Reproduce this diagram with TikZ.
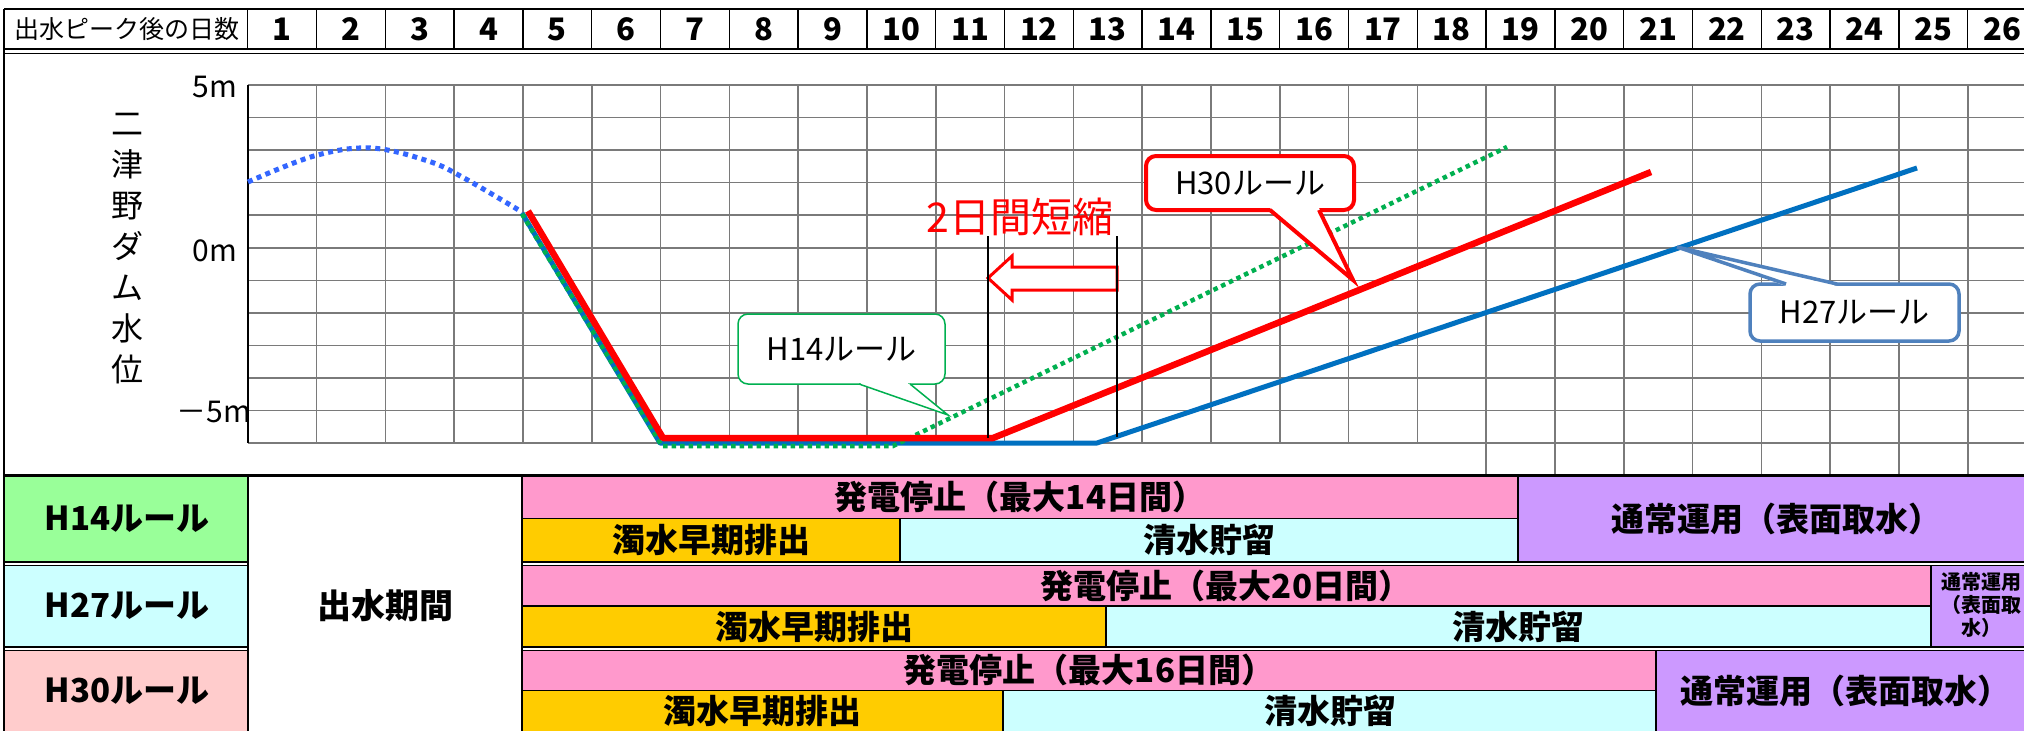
\documentclass[tikz,border=0pt]{standalone}
\usepackage{fontspec}
\setmainfont{Noto Sans CJK JP}
\newcommand{\fsz}[1]{\fontsize{#1}{#1}\selectfont}
\definecolor{lgreen}{HTML}{99FF99}
\definecolor{lcyan}{HTML}{CCFFFF}
\definecolor{lpink}{HTML}{FFCCCC}
\definecolor{barpink}{HTML}{FF99CC}
\definecolor{barorange}{HTML}{FFCC00}
\definecolor{barcyan}{HTML}{CCFFFF}
\definecolor{barpurple}{HTML}{CC99FF}
\definecolor{rred}{HTML}{FF0000}
\definecolor{rblue}{HTML}{0070C0}
\definecolor{rgreen}{HTML}{00B050}
\definecolor{dblue}{HTML}{3366FF}
\definecolor{cblue}{HTML}{4F81BD}
\begin{document}
\begin{tikzpicture}[x=1pt,y=-1pt,
  gridln/.style={draw=black!52, line width=1.6pt},
  hdrnum/.style={font=\fsz{31}\bfseries, inner sep=0pt},
  callout/.style={draw, fill=white, rounded corners=10pt, inner sep=0pt, font=\fsz{31}},
  celltxt/.style={font=\fsz{33}\bfseries, inner sep=0pt},
  axlab/.style={font=\fsz{30}, inner sep=0pt},
  border/.style={line width=1.5pt, draw=black}]
\useasboundingbox (0,0) rectangle (2024,731);
\fill[white] (0,0) rectangle (2024,731);

% ---------- header ----------
\node[font=\fsz{25}, inner sep=0pt] (hlabel) at (127,29) {出水ピーク後の日数};
\foreach \k in {1,...,26} {
  \node[hdrnum] (h\k) at ({247.7+68.8*(\k-0.5)},29) {\k};
}
\foreach \k in {0,...,25} {
  \draw[line width=1.3pt] ({247.7+68.8*\k},9) -- ({247.7+68.8*\k},49);
}
\draw[line width=2pt] (4,9) -- (2024,9);
\draw[line width=2pt] (4,49) -- (2024,49);
\draw[line width=1.3pt] (4,53.5) -- (2024,53.5);

% ---------- chart grid ----------
\foreach \j in {0,...,11} {
  \draw[gridln] (247.7,{85+32.55*\j}) -- (2024,{85+32.55*\j});
}
\foreach \k in {1,...,17} {
  \draw[gridln] ({247.7+68.8*\k},85) -- ({247.7+68.8*\k},443);
}
\foreach \k in {18,...,25} {
  \draw[gridln] ({247.7+68.8*\k},85) -- ({247.7+68.8*\k},474);
}
\draw[line width=1.8pt] (247.7,85) -- (247.7,443);

\node[axlab, anchor=east] (y5) at (237,87) {5m};
\node[axlab, anchor=east] (y0) at (237,251) {0m};
\node[axlab, anchor=east] (ym5) at (251,412) {－5m};
\node[font=\fontsize{32}{41}\selectfont, align=center, inner sep=0pt] (ylab) at (127,249)
  {二\\津\\野\\ダ\\ム\\水\\位};

% ---------- curves ----------
\draw[dblue, line width=5pt, dash pattern=on 5pt off 4.5pt]
  plot[smooth, tension=0.6] coordinates {(248,182) (314,156) (371,148) (428,161) (464,178) (522,212)};
\draw[rblue, line width=5pt, line join=round] (522,213) -- (660,443) -- (1097,443) -- (1917,168);
\draw[rgreen, line width=4.5pt, dash pattern=on 4.5pt off 4pt] (522,214) -- (662,446) -- (893,446) -- (1507,147);
\draw[rred, line width=6.5pt, line join=round] (528,211) -- (663,438) -- (993,438) -- (1651,172);

% ---------- 2日間短縮 ----------
\draw[rred, line width=3pt, fill=white, line join=miter]
  (988,278) -- (1012,256) -- (1012,267) -- (1117,267) -- (1117,290) -- (1012,290) -- (1012,300) -- cycle;
\coordinate (m1top) at (988,236);
\coordinate (m1bot) at (988,438);
\coordinate (m2top) at (1117,236);
\coordinate (m2bot) at (1117,437);
\draw[line width=1.3pt] (m1top) -- (m1bot);
\draw[line width=1.3pt] (m2top) -- (m2bot);
\node[rred, font=\fsz{41}, inner sep=0pt] (short) at (1020,217) {2日間短縮};

% ---------- callouts ----------
\node[callout, draw=rgreen, line width=1.5pt, minimum width=207pt, minimum height=70pt] (c14) at (841.5,349) {H14ルール};
\coordinate (t14) at (948,415);
\draw[white, line width=3pt] (861,384) -- (908,384);
\fill[white] (859,384) -- (t14) -- (910,384) -- cycle;
\draw[rgreen, line width=1.5pt] (859,384) -- (t14) -- (910,384);

\node[callout, draw=rred, line width=4pt, minimum width=208pt, minimum height=54pt] (c30) at (1250,183) {H30ルール};
\coordinate (t30) at (1353,280);
\draw[white, line width=5pt] (1273,210) -- (1316,210);
\fill[white] (1270,208) -- (t30) -- (1319,208) -- cycle;
\draw[rred, line width=4pt, line join=miter] (1270,210) -- (t30) -- (1319,210);

\node[callout, draw=cblue, line width=3.5pt, minimum width=209pt, minimum height=57pt] (c27) at (1854.5,312.5) {H27ルール};
\coordinate (t27) at (1677,247);
\draw[white, line width=5pt] (1789,284) -- (1834,284);
\fill[white] (1786,286) -- (t27) -- (1837,286) -- cycle;
\draw[cblue, line width=3.5pt, line join=miter] (1786,284) -- (t27) -- (1837,284);

% ---------- table fills ----------
\fill[lgreen] (4,475) rectangle (248,562);
\fill[lcyan] (4,565) rectangle (248,647);
\fill[lpink] (4,650) rectangle (248,731);
% H14
\fill[barpink] (522,475) rectangle (1518,518.5);
\fill[barorange] (522,518.5) rectangle (900,562);
\fill[barcyan] (900,518.5) rectangle (1518,562);
\fill[barpurple] (1518,475) rectangle (2024,562);
% H27
\fill[barpink] (522,565) rectangle (1931,606);
\fill[barorange] (522,606) rectangle (1106,647);
\fill[barcyan] (1106,606) rectangle (1931,647);
\fill[barpurple] (1931,565) rectangle (2024,647);
% H30
\fill[barpink] (522,650) rectangle (1656,690.5);
\fill[barorange] (522,690.5) rectangle (1003,731);
\fill[barcyan] (1003,690.5) rectangle (1656,731);
\fill[barpurple] (1656,650) rectangle (2024,731);

% ---------- table lines ----------
\draw[line width=3pt] (4,475.5) -- (2024,475.5);
\draw[border] (248,475) -- (248,731);
\draw[border] (522,475) -- (522,731);
\draw[border] (4,562) -- (248,562);
\draw[border] (4,565.5) -- (248,565.5);
\draw[border] (522,562) -- (2024,562);
\draw[border] (522,565.5) -- (2024,565.5);
\draw[border] (4,647) -- (248,647);
\draw[border] (4,650.5) -- (248,650.5);
\draw[border] (522,647) -- (2024,647);
\draw[border] (522,650.5) -- (2024,650.5);
\draw[border] (522,518.5) -- (1518,518.5);
\draw[border] (522,606) -- (1931,606);
\draw[border] (522,690.5) -- (1656,690.5);
\draw[border] (900,518.5) -- (900,562);
\draw[border] (1518,475) -- (1518,562);
\draw[border] (1106,606) -- (1106,647);
\draw[border] (1931,565.5) -- (1931,647);
\draw[border] (1003,690.5) -- (1003,731);
\draw[border] (1656,650.5) -- (1656,731);
\draw[line width=2pt] (4,9) -- (4,731);

% ---------- table texts ----------
\node[celltxt, font=\fsz{33}\bfseries] (r14) at (127,519) {H14ルール};
\node[celltxt, font=\fsz{33}\bfseries] (r27) at (127,606) {H27ルール};
\node[celltxt, font=\fsz{33}\bfseries] (r30) at (127,690.5) {H30ルール};
\node[celltxt, font=\fsz{34}\bfseries] (flood) at (385,606) {出水期間};

\node[celltxt] (p14) at (1020,497) {発電停止（最大14日間）};
\node[celltxt] (o14) at (711,540) {濁水早期排出};
\node[celltxt] (s14) at (1209,540) {清水貯留};
\node[celltxt] (n14) at (1776,519) {通常運用（表面取水）};

\node[celltxt] (p27) at (1226,586) {発電停止（最大20日間）};
\node[celltxt] (o27) at (814,627) {濁水早期排出};
\node[celltxt] (s27) at (1518,627) {清水貯留};
\node[font=\fontsize{20}{23}\selectfont\bfseries, align=center, inner sep=0pt] (n27) at (1981,605) {通常運用\\（表面取\\水）};

\node[celltxt] (p30) at (1089,670) {発電停止（最大16日間）};
\node[celltxt] (o30) at (762,711) {濁水早期排出};
\node[celltxt] (s30) at (1330,711) {清水貯留};
\node[celltxt] (n30) at (1845,691) {通常運用（表面取水）};
\end{tikzpicture}
\end{document}
